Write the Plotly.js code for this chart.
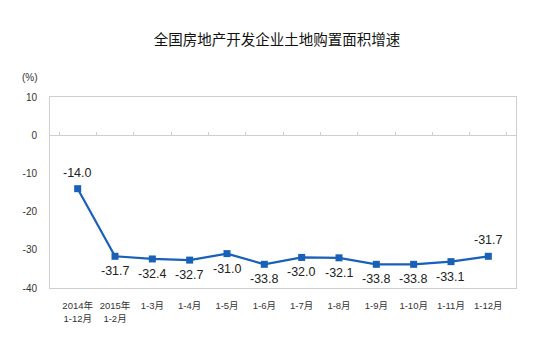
<!DOCTYPE html>
<html>
<head>
<meta charset="utf-8">
<script src="https://cdn.plot.ly/plotly-3.0.1.min.js"></script>
<style>html,body{margin:0;padding:0;background:#fff;}#chart{width:554px;height:353px;}</style>
</head>
<body>
<div id="chart"></div>
<script>
var categories = ["2014年<br>1-12月", "2015年<br>1-2月", "1-3月", "1-4月", "1-5月", "1-6月", "1-7月", "1-8月", "1-9月", "1-10月", "1-11月", "1-12月"];
var values = [-14.0, -31.7, -32.4, -32.7, -31.0, -33.8, -32.0, -32.1, -33.8, -33.8, -33.1, -31.7];
var labelAbove = [true, false, false, false, false, false, false, false, false, false, false, true];
var yTicks = [10, 0, -10, -20, -30, -40];

var font = "'Noto Sans CJK SC', 'Liberation Sans', Arial, sans-serif";
var numFont = "'Liberation Sans', Arial, sans-serif";
var mixFont = "'Liberation Sans', 'Noto Sans CJK SC', sans-serif";

var trace = {
  x: categories,
  y: values,
  type: 'scatter',
  mode: 'lines+markers',
  line: {color: '#1860b8', width: 2.2},
  marker: {symbol: 'square', size: 7, color: '#1860b8'},
  cliponaxis: false,
  hoverinfo: 'skip'
};
var ghost = {
  x: categories,
  y: values,
  xaxis: 'x2',
  type: 'scatter',
  mode: 'markers',
  marker: {opacity: 0},
  hoverinfo: 'skip'
};

var annotations = values.map(function(v, i){
  return {
    x: categories[i], y: v, xref: 'x', yref: 'y',
    text: v.toFixed(1), showarrow: false,
    xanchor: 'center', yanchor: 'middle',
    yshift: labelAbove[i] ? 16 : -15,
    font: {family: numFont, size: 12.5, color: '#222'}
  };
});
annotations.push({
  text: '(%)', xref: 'paper', yref: 'paper', x: -0.043, y: 1.10, xanchor: 'center', yanchor: 'middle',
  showarrow: false, font: {family: numFont, size: 10, color: '#333'}
});

var layout = {
  width: 554, height: 353,
  margin: {l: 50, r: 38, t: 97, b: 65},
  paper_bgcolor: '#fff', plot_bgcolor: '#fff',
  showlegend: false,
  title: {text: '全国房地产开发企业土地购置面积增速', x: 0.5, xanchor: 'center', y: 0.887, yanchor: 'middle',
          font: {family: font, size: 14.5, color: '#111'}},
  xaxis: {
    type: 'category',
    showline: true, linecolor: '#cfcfcf', linewidth: 1, mirror: true,
    showgrid: false, ticks: '', zeroline: false,
    tickfont: {family: mixFont, size: 9.5, color: '#333'},
    ticklabelstandoff: 9
  },
  xaxis2: {
    type: 'category', overlaying: 'x', matches: 'x', anchor: 'free', position: 0.8, side: 'bottom',
    showline: true, linecolor: '#cfcfcf', linewidth: 1,
    ticks: 'inside', ticklen: 3, tickcolor: '#cfcfcf', tickson: 'boundaries',
    showticklabels: false, showgrid: false, zeroline: false
  },
  yaxis: {
    range: [-40, 10], tickvals: yTicks, ticktext: yTicks.map(String),
    showline: true, linecolor: '#cfcfcf', linewidth: 1, mirror: true,
    showgrid: false, zeroline: false, ticks: '',
    tickfont: {family: numFont, size: 10, color: '#333'},
    ticklabelstandoff: 10
  },
  annotations: annotations
};

Plotly.newPlot('chart', [trace, ghost], layout, {staticPlot: true, displayModeBar: false});
</script>
</body>
</html>
